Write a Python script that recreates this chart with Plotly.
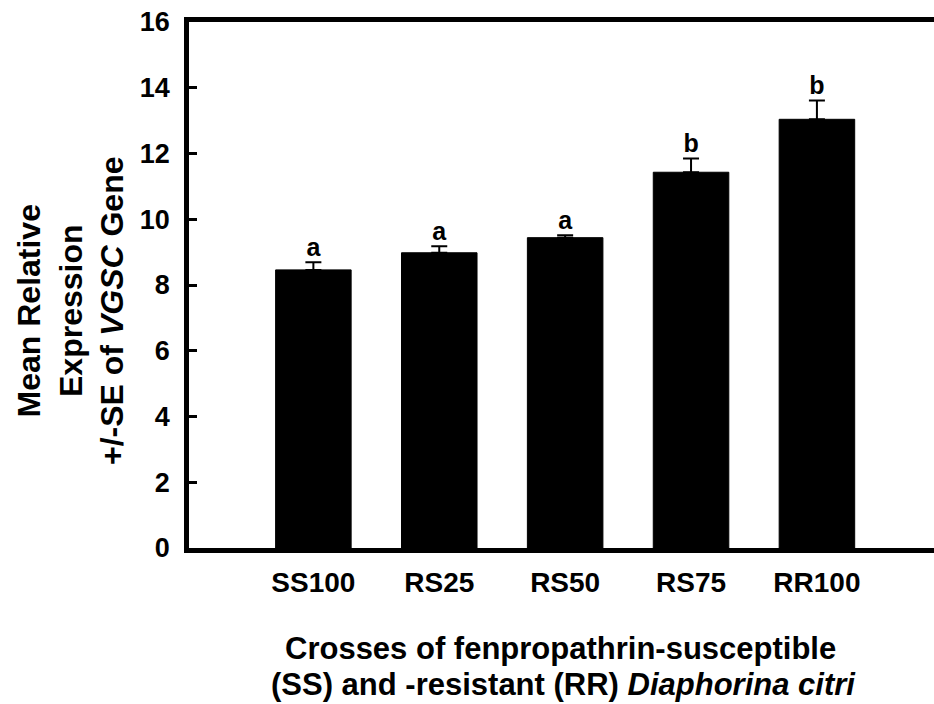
import plotly.graph_objects as go

categories = ["SS100", "RS25", "RS50", "RS75", "RR100"]
means = [8.46, 8.98, 9.44, 11.43, 13.04]
se = [0.23, 0.20, 0.07, 0.42, 0.57]
letters = ["a", "a", "a", "b", "b"]

y_title = "Mean Relative<br>Expression<br>+/-SE of <i>VGSC</i> Gene"
x_title_1 = "Crosses of fenpropathrin-susceptible"
x_title_2 = "(SS) and -resistant (RR) <i>Diaphorina citri</i>"

FONT = "Liberation Sans, Arial, sans-serif"
L, R, T, B = 189, 0, 22, 156
W, H = 934, 704
pw, ph = W - L - R, H - T - B


def px_y(y):
    return (H - B - y) / ph


def px_x(x):
    return (x - L) / pw


fig = go.Figure()
fig.add_trace(go.Bar(
    x=categories, y=means, width=0.6,
    marker=dict(color="black", line=dict(color="black", width=1)),
    error_y=dict(type="data", array=se, symmetric=False, arrayminus=[0] * len(se),
                 color="black", thickness=2, width=8, visible=True),
    showlegend=False,
))
fig.add_trace(go.Scatter(
    x=categories, y=[m + s for m, s in zip(means, se)], mode="text",
    text=[f"<b>{t}</b>" for t in letters], textposition="top center",
    textfont=dict(family=FONT, size=25, color="black"), showlegend=False,
    cliponaxis=False,
))

fig.add_annotation(text=f"<b>{y_title}</b>", xref="paper", yref="paper",
                   x=px_x(70), y=px_y(310), xanchor="center", yanchor="middle",
                   textangle=-90, showarrow=False,
                   font=dict(family=FONT, size=32, color="black"))
fig.add_annotation(text=f"<b>{x_title_1}</b>", xref="paper", yref="paper",
                   x=px_x(560), y=px_y(648), xanchor="center", yanchor="middle",
                   showarrow=False, font=dict(family=FONT, size=31, color="black"))
fig.add_annotation(text=f"<b>{x_title_2}</b>", xref="paper", yref="paper",
                   x=px_x(563), y=px_y(684), xanchor="center", yanchor="middle",
                   showarrow=False, font=dict(family=FONT, size=31, color="black"))

fig.update_layout(
    width=W, height=H,
    margin=dict(l=L, r=R, t=T, b=B, autoexpand=False),
    paper_bgcolor="white", plot_bgcolor="white",
    xaxis=dict(
        range=[-0.988, 4.93], showline=True, linewidth=4.5, linecolor="black",
        mirror=True, ticks="", showgrid=False, zeroline=False, automargin=False,
        tickfont=dict(family=FONT, size=28, color="black", weight="bold"),
        ticklabelstandoff=6,
    ),
    yaxis=dict(
        range=[0, 16], dtick=2, showline=True, linewidth=4.5, linecolor="black",
        ticks="inside", ticklen=8, tickwidth=3, tickcolor="black",
        showgrid=False, zeroline=False, automargin=False,
        tickfont=dict(family=FONT, size=27, color="black", weight="bold"),
        ticklabelstandoff=9,
    ),
)

fig.write_html("out.html", config={"displayModeBar": False},
               post_script="document.body.style.margin='0';document.body.style.padding='0';")
